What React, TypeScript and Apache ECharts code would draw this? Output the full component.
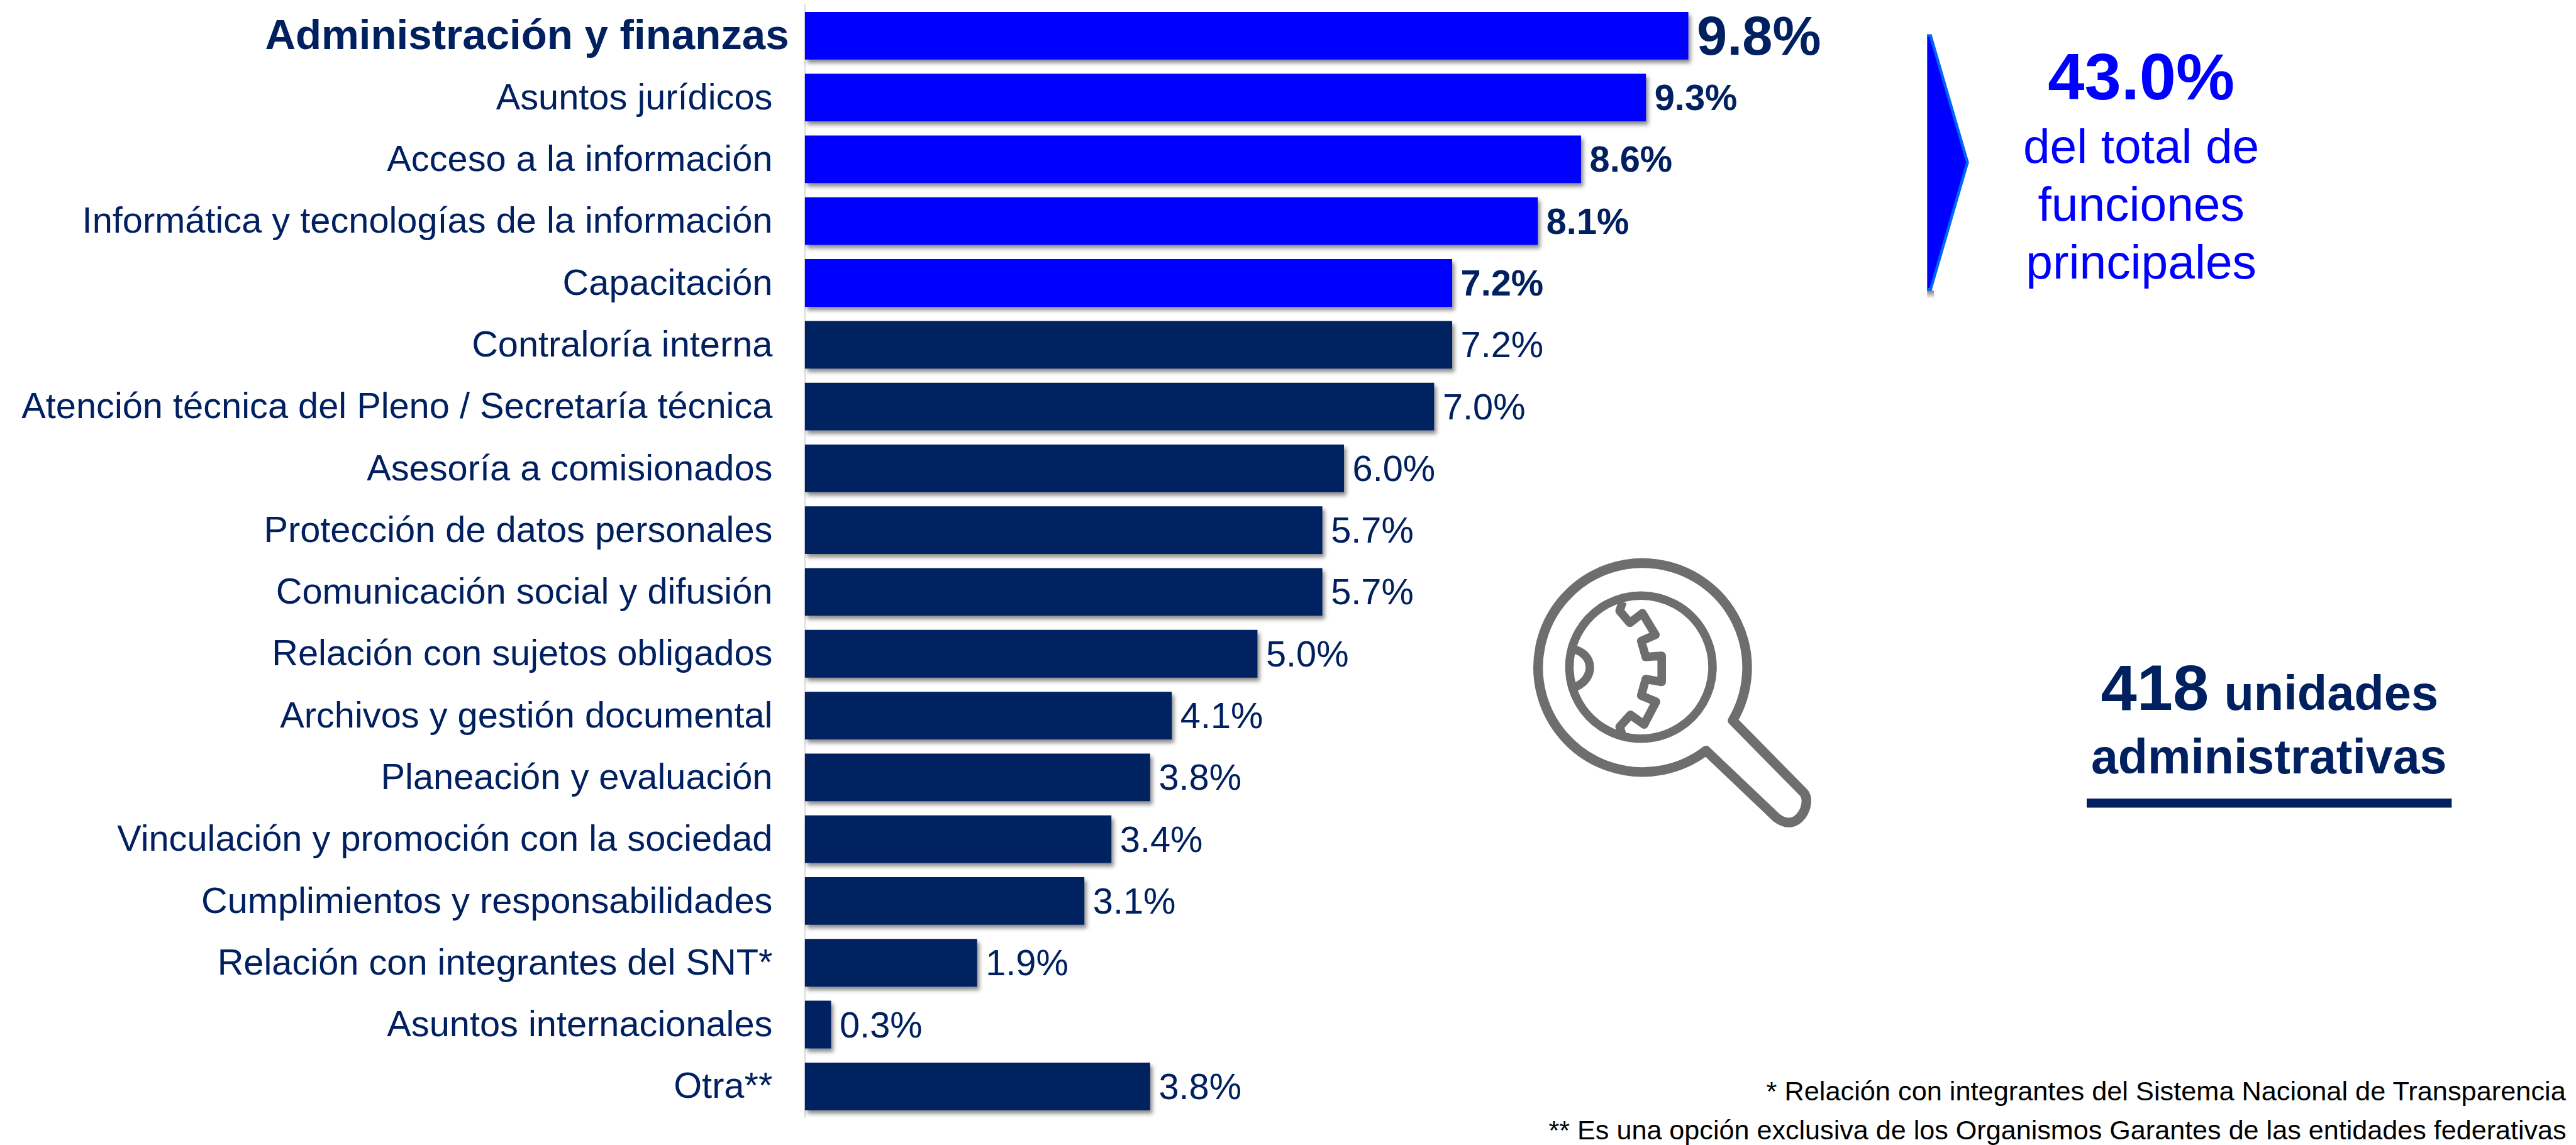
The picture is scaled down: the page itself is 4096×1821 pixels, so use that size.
import React, { useEffect, useRef } from "react";
import * as echarts from "echarts";

const W = 4096;
const H = 1821;
const S = 4096 / 4538;
const FONT = '"Liberation Sans", Arial, sans-serif';
const NAVY = "#002060";
const BLUE = "#0000FF";
const GREY = "#6E6E6E";

const categories = [
  "Administración y finanzas",
  "Asuntos jurídicos",
  "Acceso a la información",
  "Informática y tecnologías de la información",
  "Capacitación",
  "Contraloría interna",
  "Atención técnica del Pleno / Secretaría técnica",
  "Asesoría a comisionados",
  "Protección de datos personales",
  "Comunicación social y difusión",
  "Relación con sujetos obligados",
  "Archivos y gestión documental",
  "Planeación y evaluación",
  "Vinculación y promoción con la sociedad",
  "Cumplimientos y responsabilidades",
  "Relación con integrantes del SNT*",
  "Asuntos internacionales",
  "Otra**",
];
const values = [9.8, 9.33, 8.61, 8.13, 7.18, 7.18, 6.98, 5.98, 5.74, 5.74, 5.02, 4.07, 3.83, 3.4, 3.1, 1.91, 0.29, 3.83];
const highlighted = 5;

const summaryTotal = "43.0%";
const summaryLines = ["del total de", "funciones", "principales"];
const unitsCount = "418";
const unitsWords = ["unidades", "administrativas"];
const footnotes = [
  "* Relación con integrantes del Sistema Nacional de Transparencia",
  "** Es una opción exclusiva de los Organismos Garantes de las entidades federativas",
];

const lensPath =
  "M3004 1322 A184 184 0 1 1 3051 1269 L3176 1396 C3192 1414 3166 1470 3128 1440 Z";
const innerPath =
  "M2890 1049 A126 126 0 1 1 2889 1049 Z " +
  "M2857 1060 L2852 1076 L2870 1097 L2892 1080 L2915 1118 L2890 1129 L2898 1157 L2926 1155 L2926 1201 L2898 1196 L2890 1225 L2916 1236 L2895 1276 L2871 1259 L2852 1280 L2857 1296 " +
  "M2768 1143 C2810 1150 2810 1200 2768 1212";

echarts.graphic.registerShape("lensIcon", echarts.graphic.extendPath(lensPath, {}) as any);
echarts.graphic.registerShape("lensInner", echarts.graphic.extendPath(innerPath, {}) as any);

function textAt(
  text: string,
  x: number,
  baseline: number,
  size: number,
  color: string,
  weight: string,
  align: string
) {
  return {
    type: "text",
    x: x * S,
    y: (baseline - 0.3465 * size) * S,
    silent: true,
    style: {
      text,
      fill: color,
      font: `${weight} ${size * S}px ${FONT}`,
      fontFamily: FONT,
      fontSize: size * S,
      fontWeight: weight,
      textAlign: align,
      textVerticalAlign: "middle",
      verticalAlign: "middle",
    },
  };
}

export default function App() {
  const ref = useRef<HTMLDivElement>(null);
  useEffect(() => {
    document.body.style.margin = "0";
    document.body.style.background = "#fff";
    const chart = echarts.init(ref.current!, undefined, { renderer: "svg", width: W, height: H });
    const shadow = {
      shadowColor: "rgba(0,0,0,0.45)",
      shadowBlur: 7 * S,
      shadowOffsetX: 4 * S,
      shadowOffsetY: 6 * S,
    };
    chart.setOption({
      animation: false,
      backgroundColor: "#fff",
      grid: {
        left: 1418 * S,
        top: 8.5 * S,
        width: 1588 * S,
        height: 1960.2 * S,
        containLabel: false,
      },
      xAxis: { type: "value", min: 0, max: 10, show: false },
      yAxis: {
        type: "category",
        inverse: true,
        data: categories,
        axisTick: { show: false },
        axisLine: { show: true, lineStyle: { color: "#D9D9D9", width: 2 * S } },
        axisLabel: {
          interval: 0,
          margin: 28 * S,
          fontFamily: FONT,
          formatter: (v: string, i: number) => (i === 0 ? `{b|${v}}` : `{n|${v}}`),
          rich: {
            b: { fontFamily: FONT, fontSize: 74.5 * S, fontWeight: "bold", color: NAVY, padding: [0, 0, 5 * S, 0] },
            n: { fontFamily: FONT, fontSize: 64 * S, color: NAVY, padding: [0, 29 * S, 3 * S, 0] },
          },
        },
      },
      series: [
        {
          type: "bar",
          barWidth: 84 * S,
          data: values.map((v, i) => ({
            value: v,
            itemStyle: { color: i < highlighted ? BLUE : NAVY, ...shadow },
            label: {
              show: true,
              position: "right",
              distance: 15 * S,
              color: NAVY,
              fontFamily: FONT,
              fontSize: (i === 0 ? 96 : 64) * S,
              fontWeight: i < highlighted ? "bold" : "normal",
              formatter: (p: any) => `${Number(p.value).toFixed(1)}%`,
            },
          })),
        },
      ],
      graphic: [
        {
          type: "rect",
          silent: true,
          shape: { x: 3395 * S, y: 512 * S, width: 12 * S, height: 14 * S },
          style: {
            fill: {
              type: "linear",
              x: 0,
              y: 0,
              x2: 0,
              y2: 1,
              colorStops: [
                { offset: 0, color: "rgba(0,0,0,0.5)" },
                { offset: 1, color: "rgba(0,0,0,0)" },
              ],
            },
          },
        },
        {
          type: "polygon",
          silent: true,
          shape: { points: [[3395, 61], [3402, 61], [3468, 286], [3402, 512], [3395, 512]].map(([x, y]) => [x * S, y * S]) },
          style: { fill: BLUE },
        },
        {
          type: "polyline",
          silent: true,
          shape: { points: [[3395, 63], [3401, 63], [3466, 286], [3401, 510], [3395, 510]].map(([x, y]) => [x * S, y * S]) },
          style: { fill: "none", stroke: "#0066FF", lineWidth: 5 * S },
        },
        textAt(summaryTotal, 3772, 175, 116, BLUE, "bold", "center"),
        ...summaryLines.map((t, i) => textAt(t, 3772, 287 + i * 102, 85, BLUE, "normal", "center")),
        {
          type: "lensIcon",
          silent: true,
          x: 0,
          y: 0,
          scaleX: S,
          scaleY: S,
          style: { fill: "none", stroke: GREY, lineWidth: 17, lineJoin: "round" },
        },
        {
          type: "lensInner",
          silent: true,
          x: 0,
          y: 0,
          scaleX: S,
          scaleY: S,
          style: { fill: "none", stroke: GREY, lineWidth: 15, lineJoin: "round" },
        },
        textAt(unitsCount, 3701, 1251, 114, NAVY, "bold", "left"),
        textAt(unitsWords[0], 3918, 1251, 86, NAVY, "bold", "left"),
        textAt(unitsWords[1], 3997, 1362, 85.4, NAVY, "bold", "center"),
        {
          type: "rect",
          silent: true,
          shape: { x: 3676 * S, y: 1407 * S, width: 643 * S, height: 16 * S },
          style: { fill: NAVY },
        },
        textAt(footnotes[0], 4520, 1939, 48, "#000000", "normal", "right"),
        textAt(footnotes[1], 4521, 2008, 47.8, "#000000", "normal", "right"),
      ],
    });
    return () => chart.dispose();
  }, []);
  return <div ref={ref} style={{ width: W, height: H, overflow: "hidden" }} />;
}
